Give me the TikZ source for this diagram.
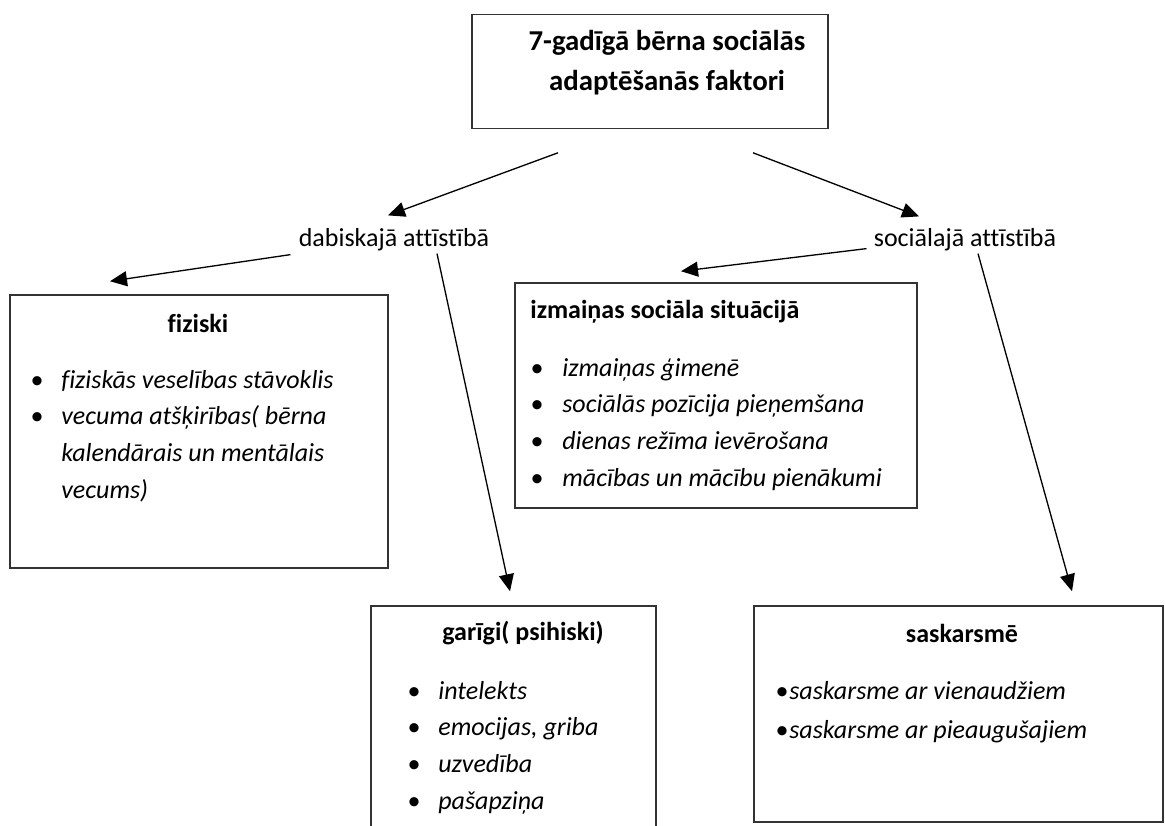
\documentclass[tikz,border=0pt]{standalone}
\usepackage{fontspec}
\setmainfont{Carlito}[Ligatures=NoCommon]
\usetikzlibrary{arrows.meta,calc}

% bullet list: width of bullet column, rows
\newcommand{\blist}[2]{\begin{tabular}[t]{@{}p{#1}@{}l@{}}#2\end{tabular}}

\begin{document}
\begin{tikzpicture}[
  x=0.02cm, y=-0.02cm,
  frame/.style={draw=black!80, line width=0.9pt, rectangle, inner sep=0pt},
  head/.style={font=\fontsize{14.8}{18}\selectfont\bfseries, inner sep=0pt},
  lbl/.style={font=\fontsize{14.8}{18}\selectfont, inner sep=0pt},
  items/.style={font=\fontsize{14.8}{21}\selectfont\itshape, inner sep=0pt, anchor=base west},
  arr/.style={-{Triangle[length=0.34cm,width=0.3cm]}, line width=0.75pt}
]
\useasboundingbox (0,0) rectangle (1165,825);

% top
\node [frame, minimum width=7.12cm, minimum height=2.28cm] (top) at (650,71.5) {};
\node [head, font=\fontsize{16.4}{22.8}\selectfont\bfseries, align=center] (title) at (667,63)
  {7-gadīgā bērna sociālās\\adaptēšanās faktori};

% two branches
\node [lbl] (dab) at (394,240) {dabiskajā attīstībā};
\node [lbl] (soc) at (965,240) {sociālajā attīstībā};

% fiziski
\node [frame, minimum width=7.56cm, minimum height=5.46cm] (fiz) at (199,431.5) {};
\node [head] (fizh) at (198,323) {fiziski};
\node [items] (fizl) at (30,388) {\blist{0.62cm}{%
  \textbullet & fiziskās veselības stāvoklis\\
  \textbullet & vecuma atšķirības( bērna\\
  & kalendārais un mentālais\\
  & vecums)}};

% izmaiņas sociāla situācijā
\node [frame, minimum width=8.04cm, minimum height=4.5cm] (izm) at (716,395.5) {};
\node [head, anchor=west] (izmh) at (530,312) {izmaiņas sociāla situācijā};
\node [items] (izml) at (530,376) {\blist{0.64cm}{%
  \textbullet & izmaiņas ģimenē\\
  \textbullet & sociālās pozīcija pieņemšana\\
  \textbullet & dienas režīma ievērošana\\
  \textbullet & mācības un mācību pienākumi}};

% garīgi
\node [frame, minimum width=5.7cm, minimum height=5.08cm] (gar) at (513.5,733) {};
\node [head] (garh) at (523,633) {garīgi( psihiski)};
\node [items] (garl) at (407,699) {\blist{0.62cm}{%
  \textbullet & intelekts\\
  \textbullet & emocijas, griba\\
  \textbullet & uzvedība\\
  \textbullet & pašapziņa}};

% saskarsmē
\node [frame, minimum width=8.18cm, minimum height=4.32cm] (sask) at (958.5,714) {};
\node [head] (saskh) at (962,633) {saskarsmē};
\node [items, font=\fontsize{14.8}{22.2}\selectfont\itshape] (saskl) at (775,699) {\blist{0.28cm}{%
  \textbullet & saskarsme ar vienaudžiem\\
  \textbullet & saskarsme ar pieaugušajiem}};

% arrows
\draw [arr] ($(top.south)+(-92,23.5)$) -- ($(dab.north)+(-6,-13)$);
\draw [arr] ($(top.south)+(103,23.5)$) -- ($(soc.north)+(-46,-12)$);
\draw [arr] ($(dab.south west)+(-8,3)$) -- ($(fiz.north)+(-89,-13)$);
\draw [arr] ($(dab.south)+(43,2)$) -- ($(gar.north)+(-3.5,-14)$);
\draw [arr] ($(soc.south west)+(-7,-3)$) -- ($(izm.north)+(-35,-11)$);
\draw [arr] ($(soc.south)+(13,2)$) -- ($(sask.north)+(113.5,-14)$);
\end{tikzpicture}
\end{document}
